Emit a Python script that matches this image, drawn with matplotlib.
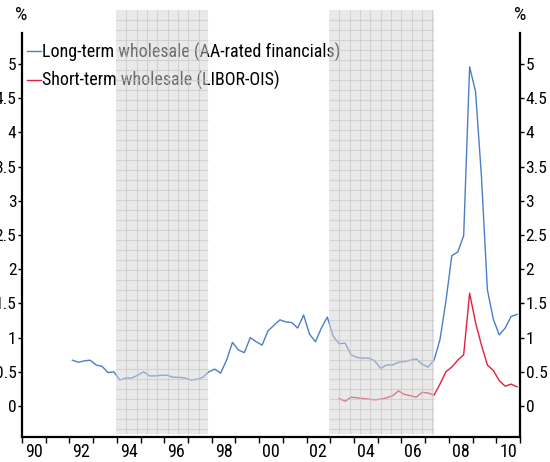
import numpy as np
import pandas as pd
import matplotlib
matplotlib.use("Agg")
import matplotlib.pyplot as plt
from matplotlib.patches import Rectangle
from matplotlib.ticker import FixedLocator, FixedFormatter, NullFormatter

# ---------------- data ----------------
quarters = pd.period_range("1992Q1", "2010Q4", freq="Q")
long_term = [0.67, 0.64, 0.66, 0.67, 0.60, 0.58, 0.49, 0.50,
             0.38, 0.41, 0.41, 0.45, 0.50, 0.44, 0.44, 0.45,
             0.45, 0.42, 0.42, 0.41, 0.38, 0.39, 0.42, 0.50,
             0.54, 0.48, 0.67, 0.93, 0.82, 0.78, 1.00, 0.94,
             0.89, 1.10, 1.18, 1.26, 1.23, 1.22, 1.14, 1.33,
             1.05, 0.94, 1.14, 1.30, 1.02, 0.91, 0.92, 0.75,
             0.71, 0.70, 0.70, 0.66, 0.55, 0.60, 0.60, 0.64,
             0.65, 0.67, 0.69, 0.61, 0.57, 0.67, 0.97, 1.53,
             2.20, 2.25, 2.49, 4.96, 4.60, 3.35, 1.70, 1.27,
             1.04, 1.14, 1.31, 1.34]
short_quarters = pd.period_range("2003Q2", "2010Q4", freq="Q")
short_term = [0.11, 0.07, 0.13, 0.12, 0.11, 0.10, 0.09, 0.10,
              0.12, 0.15, 0.22, 0.17, 0.15, 0.13, 0.20, 0.19,
              0.16, 0.32, 0.50, 0.57, 0.67, 0.75, 1.65, 1.22,
              0.89, 0.60, 0.52, 0.37, 0.29, 0.32, 0.28]
shaded_periods = [(1993.97, 1997.83), (2002.95, 2007.38)]
year_ticks = list(range(1990, 2012))
label_years = [1990, 1992, 1994, 1996, 1998, 2000, 2002, 2004, 2006, 2008, 2010]
year_labels = ["90", "92", "94", "96", "98", "00", "02", "04", "06", "08", "10"]
y_ticks = [0, 0.5, 1, 1.5, 2, 2.5, 3, 3.5, 4, 4.5, 5]
y_labels = ["0", "0.5", "1", "1.5", "2", "2.5", "3", "3.5", "4", "4.5", "5"]
series_names = ["Long-term wholesale (AA-rated financials)",
                "Short-term wholesale (LIBOR-OIS)"]


def qpos(periods):
    return np.array([p.year + (p.quarter - 0.5) / 4 for p in periods])


FONT = ["Roboto Condensed", "Liberation Sans", "DejaVu Sans"]
plt.rcParams["font.family"] = FONT

W, H = 550, 462
fig = plt.figure(figsize=(W / 100, H / 100), dpi=100)
L, R, T, B = 22, 520, 10, 437
ax = fig.add_axes([L / W, 1 - B / H, (R - L) / W, (B - T) / H])

YMIN, YMAX = -0.453, 5.79
ax.set_xlim(1990, 2011)
ax.set_ylim(YMIN, YMAX)

BLUE = "#4a7ec8"
RED = "#e0203c"
ax.plot(qpos(quarters), long_term, color=BLUE, lw=1.0, zorder=2,
        label=series_names[0])
ax.plot(qpos(short_quarters), short_term, color=RED, lw=1.0, zorder=2,
        label=series_names[1])

leg = ax.legend(loc="upper left", bbox_to_anchor=(0.0, 0.934), frameon=False,
                handlelength=0.78, handletextpad=0.1, borderaxespad=0.0,
                borderpad=0.25, labelspacing=0.51, fontsize=13)
leg.set_zorder(3)

# shaded (semi-transparent overlay with fine grid)
y_sh0 = -0.41
for x0, x1 in shaded_periods:
    ax.add_patch(Rectangle((x0, y_sh0), x1 - x0, YMAX - y_sh0,
                           facecolor="#d4d4d4", edgecolor="none",
                           alpha=0.5, zorder=6))
    xs = np.arange(x0 + 0.435, x1, 0.435)
    ax.vlines(xs, y_sh0, YMAX, colors="#c4c4c4", lw=0.8, alpha=0.6, zorder=7)
    ys = np.arange(YMAX - 0.146, y_sh0, -0.146)
    ax.hlines(ys, x0, x1, colors="#c4c4c4", lw=0.8, alpha=0.6, zorder=7)

# spines
ax.spines["top"].set_visible(False)
for s in ("left", "right"):
    ax.spines[s].set_bounds(YMIN, 5.45)
for s in ("left", "right", "bottom"):
    ax.spines[s].set_linewidth(1.6)

# y ticks on both sides
ax.yaxis.set_major_locator(FixedLocator(y_ticks))
ax.yaxis.set_major_formatter(FixedFormatter(y_labels))
ax.tick_params(axis="y", which="major", direction="out", length=3, width=1.0,
               left=True, right=True, labelleft=True, labelright=True,
               labelsize=12.5, pad=1)

# x ticks: year boundaries, labels centred within the year
ax.xaxis.set_major_locator(FixedLocator(year_ticks))
ax.xaxis.set_major_formatter(NullFormatter())
ax.xaxis.set_minor_locator(FixedLocator([y + 0.5 for y in label_years]))
ax.xaxis.set_minor_formatter(FixedFormatter(year_labels))
ax.tick_params(axis="x", which="major", direction="out", length=4, width=1.0)
ax.tick_params(axis="x", which="minor", length=0, labelsize=13, pad=4)

fig.text(21 / W, 1 - 14.5 / H, "%", ha="center", va="center", fontsize=14)
fig.text(520 / W, 1 - 14.5 / H, "%", ha="center", va="center", fontsize=14)

fig.savefig("out.png", dpi=100)
